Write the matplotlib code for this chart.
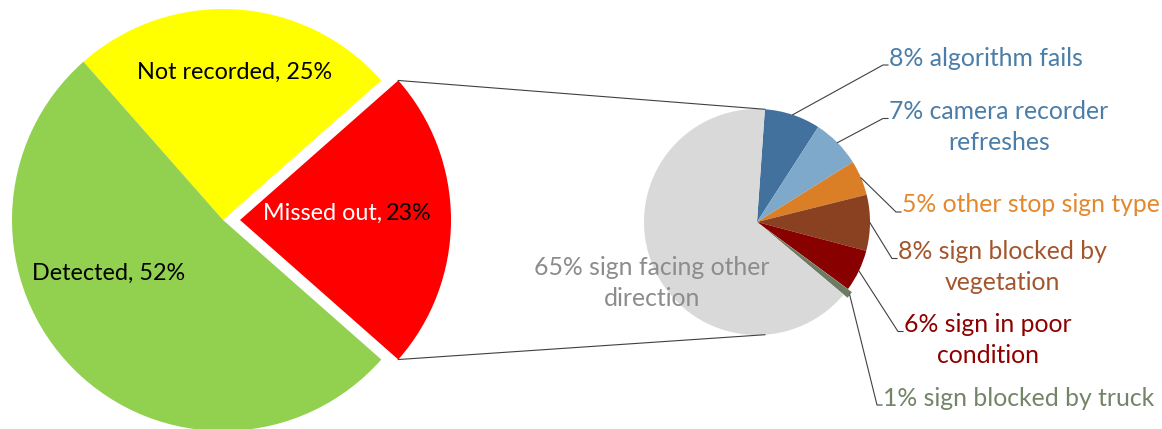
import numpy as np
import matplotlib.pyplot as plt

plt.rcParams['font.family'] = ['Lato', 'DejaVu Sans']

#%% data
main_labels = ['Missed out', 'Not recorded', 'Detected']
main_values = [23, 25, 52]
main_colors = ['#FF0000', '#FFFF00', '#92D050']

sub_labels = ['algorithm fails', 'camera recorder\nrefreshes', 'other stop sign type',
              'sign blocked by\nvegetation', 'sign in poor\ncondition',
              'sign blocked by truck', 'sign facing other\ndirection']
sub_values = [8, 7, 5, 8, 6, 1, 65]
sub_colors = ['#41719C', '#7FA9CB', '#DA7F26', '#8A4122', '#880000', '#6C7C62', '#D9D9D9']
sub_text_colors = ['#4A7DA8', '#4A7DA8', '#E3882D', '#A3562D', '#8E0000', '#738468', '#8C8C8C']

#%% layout (pixel coordinates, y measured from top)
W, H = 1162, 429
FS = 16.8       # left pie labels
FS2 = 17.8      # right pie labels
LS = 1.45
big_center, big_r = (223, 220), 211
small_center, small_r = (757, 222), 113
small_start = 86
# text anchor (left edge, vertical centre of the text block)
sub_text_pos = [(889, 58), (889, 127), (902, 205), (898, 267), (904, 340), (883, 398), (652, 283)]

fig = plt.figure(figsize=(W / 100, H / 100), dpi=100)
ax = fig.add_axes([0, 0, 1, 1])

def up(y):
    return H - y

# main pie, red slice pulled out (explode is in data units here)
wm, _ = ax.pie(main_values, colors=main_colors, radius=big_r,
               center=(big_center[0], up(big_center[1])),
               startangle=-main_values[0] * 3.6 / 2, counterclock=True,
               explode=[17, 0, 0], wedgeprops=dict(linewidth=0))

ax.text(235, up(72), f'{main_labels[1]}, {main_values[1]}%', fontsize=FS, ha='center', va='center')
ax.text(109, up(273), f'{main_labels[2]}, {main_values[2]}%', fontsize=FS, ha='center', va='center')
ax.text(382, up(213), f'{main_labels[0]},', fontsize=FS, ha='right', va='center', color='white')
ax.text(386, up(213), f'{main_values[0]}%', fontsize=FS, ha='left', va='center', color='black')

# secondary pie
ws, _ = ax.pie(sub_values, colors=sub_colors, radius=small_r,
               center=(small_center[0], up(small_center[1])),
               startangle=small_start, counterclock=False,
               explode=[0, 0, 0, 0, 0, 5, 0], wedgeprops=dict(linewidth=0))

# connector lines between the pies
red = wm[0]
for th, sa in [(red.theta2, small_start), (red.theta1, -small_start)]:
    p0 = (red.center[0] + red.r * np.cos(np.radians(th)), red.center[1] + red.r * np.sin(np.radians(th)))
    p1 = (small_center[0] + small_r * np.cos(np.radians(sa)), up(small_center[1]) + small_r * np.sin(np.radians(sa)))
    ax.plot([p0[0], p1[0]], [p0[1], p1[1]], color='#404040', lw=0.8)

# labels + leader lines
for i, w in enumerate(ws):
    txt = f'{sub_values[i]}% {sub_labels[i]}'
    tx, ty = sub_text_pos[i]
    if i == len(ws) - 1:
        ax.text(tx, up(ty), txt, fontsize=FS2, ha='center', va='center',
                multialignment='center', color=sub_text_colors[i], linespacing=LS)
        continue
    ax.text(tx, up(ty), txt, fontsize=FS2, ha='left', va='center',
            multialignment='center', color=sub_text_colors[i], linespacing=LS)
    nlines = txt.count('\n') + 1
    y_first = ty - (nlines - 1) * 15.5
    mid = np.radians((w.theta1 + w.theta2) / 2)
    ax0 = w.center[0] + w.r * np.cos(mid)
    ay0 = w.center[1] + w.r * np.sin(mid)
    ex, ey = tx - 6, up(y_first + 7)
    ax.plot([ax0, ex, tx - 1], [ay0, ey, ey], color='#404040', lw=0.8)

ax.set_xlim(0, W)
ax.set_ylim(0, H)
ax.set_aspect('equal')
ax.axis('off')

fig.savefig('out.png', dpi=100)
